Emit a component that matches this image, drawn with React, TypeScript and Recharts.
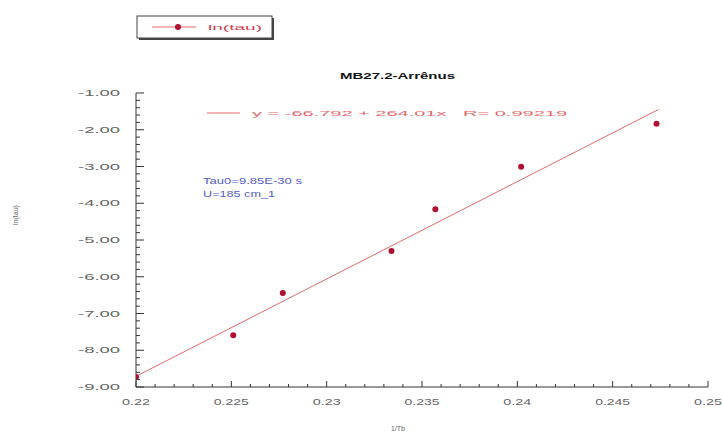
import React from 'react';
import { ScatterChart, Scatter, XAxis, YAxis, ReferenceLine } from 'recharts';

// Data
const xValues = [0.22, 0.2251, 0.2277, 0.2334, 0.2357, 0.2402, 0.2473];
const lnTau = [-8.73, -7.59, -6.44, -5.3, -4.16, -3.01, -1.84];
const fitStart = { x: 0.22, y: -8.71 };
const fitEnd = { x: 0.2474, y: -1.45 };

const xMajorLabels = ['0.22', '0.225', '0.23', '0.235', '0.24', '0.245', '0.25'];
const yMajorLabels = ['-9.00', '-8.00', '-7.00', '-6.00', '-5.00', '-4.00', '-3.00', '-2.00', '-1.00'];

const titleText = 'MB27.2-Arrênus';
const equationText = 'y = -66.792 + 264.01x   R= 0.99219';
const annot1 = 'Tau0=9.85E-30 s';
const annot2 = 'U=185 cm_1';
const seriesName = 'ln(tau)';
const xLabel = '1/Tb';
const yLabel = 'ln(tau)';

const points = xValues.map((x, i) => ({ x, y: lnTau[i] }));

const xTicks: number[] = [];
for (let i = 0; i <= 30; i++) xTicks.push(Math.round((0.22 + i * 0.001) * 10000) / 10000);
const yTicks: number[] = [];
for (let i = 0; i <= 40; i++) yTicks.push(Math.round((-9 + i * 0.2) * 100) / 100);

const isXMajor = (v: number) => Math.abs(v * 200 - Math.round(v * 200)) < 1e-6;
const isYMajor = (v: number) => Math.abs(v - Math.round(v)) < 1e-6;

const FONT = '"Liberation Sans", Arial, sans-serif';
const AXIS = '#333';
const TICKTXT = '#666';
const RED = '#e46a6a';
const DOT = '#b01030';

const XTick = (props: any) => {
  const { x, y, payload } = props;
  const v = payload.value as number;
  const major = isXMajor(v);
  const idx = Math.round((v - 0.22) * 200);
  const label = major ? xMajorLabels[idx] : null;
  return (
    <g>
      <line x1={x} x2={x} y1={y} y2={y - (major ? 6 : 3)} stroke={AXIS} strokeWidth={1} />
      {label && (
        <text
          x={x}
          y={y + 18}
          textAnchor="middle"
          fontSize={9}
          fill={TICKTXT}
          fontFamily={FONT}
          textLength={label.length * 7}
          lengthAdjust="spacingAndGlyphs"
        >
          {label}
        </text>
      )}
    </g>
  );
};

const YTick = (props: any) => {
  const { x, y, payload } = props;
  const v = payload.value as number;
  const major = isYMajor(v);
  const idx = Math.round(v + 9);
  const label = major ? yMajorLabels[idx] : null;
  return (
    <g>
      <line x1={x} x2={x + (major ? 8 : 4)} y1={y} y2={y} stroke={AXIS} strokeWidth={1} />
      {label && (
        <text
          x={x - 16}
          y={y + 3}
          textAnchor="end"
          fontSize={9}
          fill={TICKTXT}
          fontFamily={FONT}
          textLength={42}
          lengthAdjust="spacingAndGlyphs"
        >
          {label}
        </text>
      )}
    </g>
  );
};

const Dot = (props: any) => <circle cx={props.cx} cy={props.cy} r={3} fill={DOT} />;

export default function App() {
  return (
    <div style={{ position: 'absolute', left: 0, top: 0, width: 723, height: 435, background: '#fff' }}>
      <ScatterChart width={723} height={435} margin={{ top: 93, right: 15, bottom: 18, left: 0 }}>
        <XAxis
          type="number"
          dataKey="x"
          domain={[0.22, 0.25]}
          ticks={xTicks}
          interval={0}
          tickSize={0}
          tickMargin={0}
          tickLine={false}
          axisLine={{ stroke: AXIS }}
          tick={<XTick />}
          height={30}
          allowDataOverflow
        />
        <YAxis
          type="number"
          dataKey="y"
          domain={[-9, -1]}
          ticks={yTicks}
          interval={0}
          tickSize={0}
          tickMargin={0}
          tickLine={false}
          axisLine={{ stroke: AXIS }}
          tick={<YTick />}
          width={136}
          allowDataOverflow
        />
        <ReferenceLine
          segment={[fitStart, fitEnd]}
          stroke={RED}
          strokeWidth={1}
          ifOverflow="visible"
        />
        <Scatter data={points} fill={DOT} shape={<Dot />} isAnimationActive={false} name={seriesName} />
      </ScatterChart>
      <svg
        width={723}
        height={435}
        style={{ position: 'absolute', left: 0, top: 0, pointerEvents: 'none' }}
        fontFamily={FONT}
      >
        {/* legend */}
        <rect x={139} y={18} width={135} height={22} fill="#444" />
        <rect x={137} y={16} width={135} height={22} fill="#fff" stroke="#444" strokeWidth={1} />
        <line x1={152} x2={196} y1={27} y2={27} stroke={RED} strokeWidth={1} />
        <circle cx={178} cy={27} r={3} fill={DOT} />
        <text x={208} y={30} fontSize={8} fill="#d04050" textLength={54} lengthAdjust="spacingAndGlyphs">
          {seriesName}
        </text>
        {/* title */}
        <text x={340} y={79} fontSize={9} fontWeight="bold" fill="#111" textLength={115} lengthAdjust="spacingAndGlyphs">
          {titleText}
        </text>
        {/* equation */}
        <line x1={207} x2={240} y1={113} y2={113} stroke={RED} strokeWidth={1} />
        <text
          x={252}
          y={116}
          fontSize={8}
          fill={RED}
          textLength={315}
          lengthAdjust="spacingAndGlyphs"
          style={{ whiteSpace: 'pre' }}
        >
          {equationText}
        </text>
        {/* annotations */}
        <text x={203} y={184} fontSize={9} fill="#5560c8" textLength={99} lengthAdjust="spacingAndGlyphs">
          {annot1}
        </text>
        <text x={203} y={197} fontSize={9} fill="#5560c8" textLength={72} lengthAdjust="spacingAndGlyphs">
          {annot2}
        </text>
        {/* axis labels */}
        <text x={18} y={215} fontSize={7} fill="#666" textAnchor="middle" transform="rotate(-90 18 215)">
          {yLabel}
        </text>
        <text x={398} y={431} fontSize={7} fill="#666" textAnchor="middle">
          {xLabel}
        </text>
      </svg>
    </div>
  );
}
